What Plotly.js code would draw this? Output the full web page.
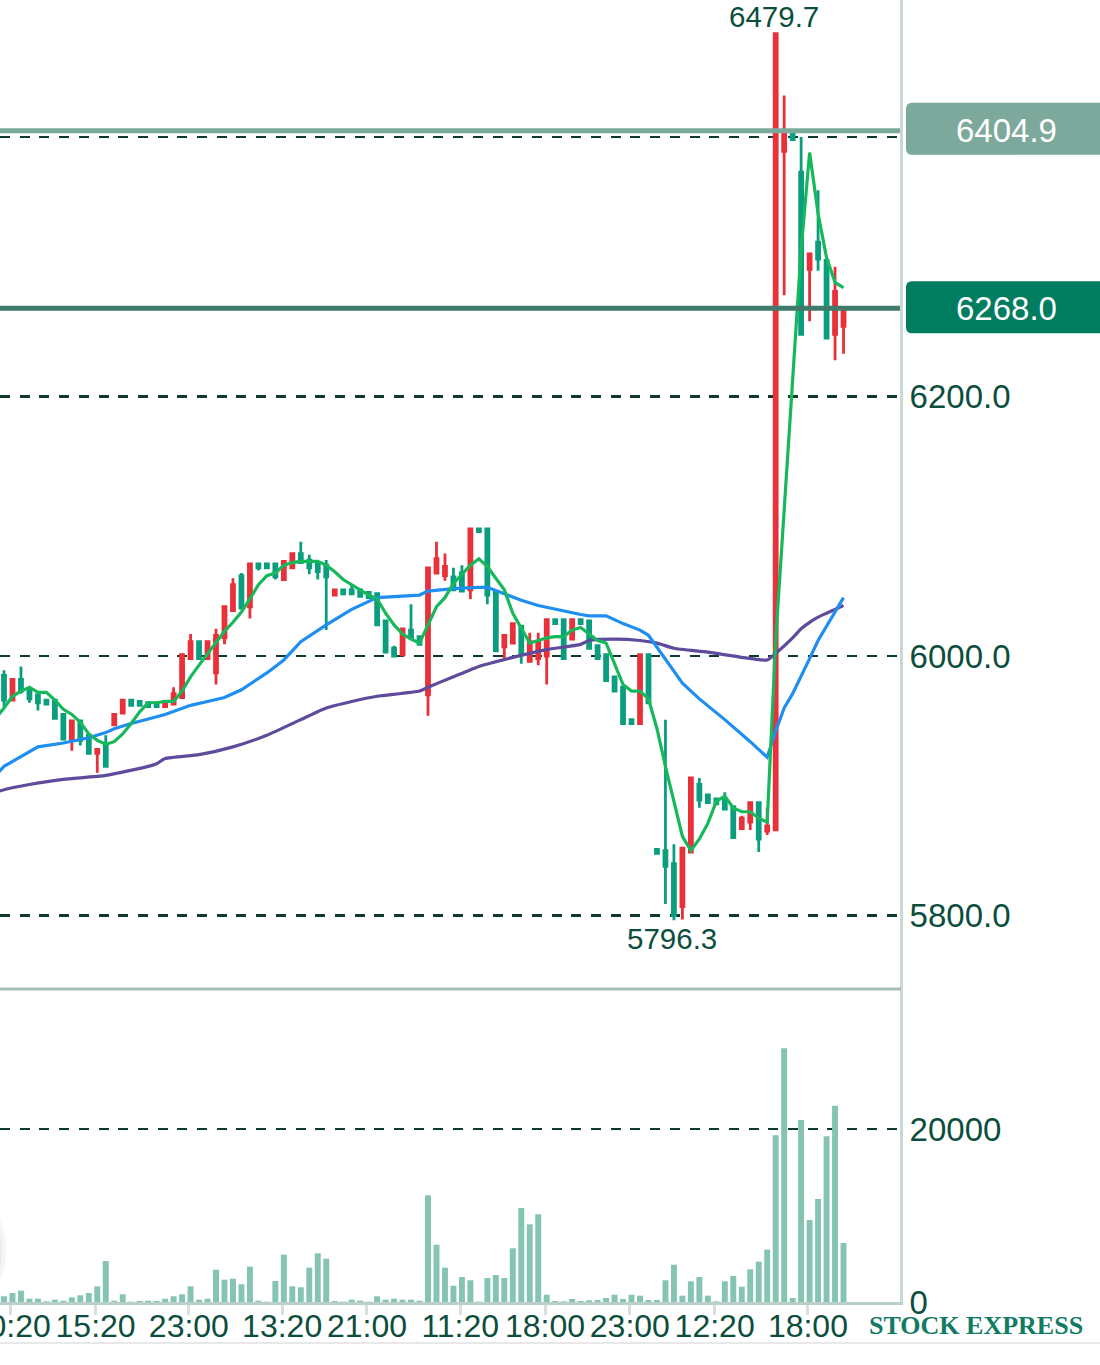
<!DOCTYPE html>
<html>
<head>
<meta charset="utf-8">
<script src="https://cdn.plot.ly/plotly-3.0.1.min.js"></script>
<style>html,body{margin:0;padding:0;background:#fff}</style>
</head>
<body>
<div id="chart"></div>
<script>
// candles, one entry per bar
const opens = [5985,5966,5982,5974,5970,5966,5966,5955,5935,5950,
  5939,5925,5932,5947,5956,5966,5965,5964,5964,5961,
  5963,5968,5998,6011,5998,5987,6014,6035,6062,6038,
  6071,6071,6071,6059,6068,6079,6074,6071,6070,6047,
  6051,6051,6051,6049,6048,6027,6006,6001,6020,6015,
  5970,6064,6062,6061,6064,6051,6098,6098,6049,6007,
  6010,6023,5996,5998,6000,6028,6028,6013,6028,6027,
  6008,6001,5984,5976,5951,5948,6001,5851,5850,5840,
  5807,5849,5901,5893,5890,5890,5884,5867,5872,5887,
  5865,5866,6389,6403,6373,6298,6319,6305,6248,6254];
const highs = [5989,5982,5992,5976,5971,5966,5967,5955,5950,5950,
  5939,5928,5939,5955,5966,5966,5965,5964,5964,5965,
  5976,6001,6017,6011,6011,6021,6038,6060,6064,6071,
  6071,6071,6071,6074,6079,6088,6078,6073,6074,6051,
  6051,6055,6051,6049,6048,6027,6008,6021,6040,6015,
  6068,6088,6079,6068,6070,6098,6098,6098,6049,6016,
  6025,6023,6018,6018,6028,6028,6028,6028,6028,6027,
  6008,6001,5984,5976,5951,6001,6001,5851,5951,5855,
  5852,5906,5906,5893,5890,5895,5884,5877,5887,5887,
  5883,6479.7,6432,6403,6400,6310,6359,6305,6300,6268];
const lows = [5961,5966,5971,5964,5958,5963,5952,5936,5927,5931,
  5925,5910,5915,5947,5956,5962,5962,5961,5961,5960,
  5963,5968,5998,5998,5998,5978,6009,6035,6037,6029,
  6066,6068,6059,6058,6068,6072,6063,6059,6020,6047,
  6048,6048,6046,6045,6024,6003,6000,6001,6014,6009,
  5954,6064,6058,6051,6050,6044,6096,6040,6004,5998,
  6010,5994,5996,5993,5978,6025,5998,6013,6025,6006,
  5998,5981,5973,5948,5948,5948,5964,5848,5809,5796.3,
  5797,5849,5883,5887,5886,5882,5860,5867,5866,5849,
  5862,5866,6278,6398,6248,6258,6297,6245,6228,6233];
const closes = [5966,5982,5973,5967,5964,5963,5952,5936,5950,5935,
  5925,5928,5915,5955,5966,5962,5962,5961,5961,5965,
  5971,6001,6011,5998,6011,6016,6038,6055,6037,6071,
  6068,6068,6061,6073,6079,6072,6068,6065,6061,6051,
  6048,6048,6046,6045,6024,6003,6000,6021,6014,6009,
  6068,6075,6069,6051,6050,6098,6096,6047,6004,6016,
  6025,6002,6011,6011,6028,6025,5998,6028,6025,6006,
  5998,5981,5973,5948,5948,6001,5964,5848,5838,5800,
  5852,5906,5889,5887,5886,5882,5860,5875,5887,5859,
  5869,6479.7,6404,6398,6248,6310,6306,6245,6281,6268];
const volumes = [660,1040,1310,380,380,80,270,150,540,770,
  1040,1810,4740,150,890,40,120,150,120,380,
  660,890,1810,270,380,3730,2580,2690,2050,4080,
  150,40,2430,5470,1810,1700,3970,5630,5010,120,
  40,270,150,40,660,270,380,270,270,150,
  12330,6620,3970,1880,2890,2510,40,2770,3120,2770,
  6210,10870,8980,10140,840,120,80,350,120,200,
  230,460,840,350,840,730,230,230,2510,4310,
  730,2390,2890,730,80,2390,3010,1770,3780,4660,
  6050,19270,29330,460,21040,9480,11910,19160,22690,6820];

// moving averages, read at the bars where they bend
const maFastIdx = [-1,0,1,2,3,4,5,6,7,8,9,10,11,12,13,14,15,16,17,18,19,20,21,22,23,24,25,26,27,28,29,30,31,32,33,34,
  35,36,37,38,39,40,41,42,43,44,45,46,47,48,49,50,51,52,53,54,55,56,57,58,59,
  60,61,62,63,64,65,66,67,68,69,70,71,72,73,74,75,76,77,78,79,80,81,82,83,84,85,86,87,88,89,90,
  91,92,93,94,95,96,97,98,99];
const maFast = [5952,5960,5969,5973,5976,5972,5972,5966,5959,5955,5949,5940,5935,5932,5934,5940,5948,5957,5964,5964,5965,5965,5973,5984,5993,6002,6010,6019,6026,6034,6044,6055,6062,6064,6070,6072,
  6073,6073,6073,6070,6065,6059,6055,6051,6047,6044,6033,6024,6017,6013,6010,6024,6038,6045,6056,6063,6070,6075,6069,6060,6051,
  6033,6021,6010,6012,6014,6015,6015,6020,6022,6017,6012,6010,5994,5978,5973,5973,5967,5944,5915,5889,5861,5850,5859,5871,5888,5892,5883,5880,5880,5875,5872,
  6012,6116,6213,6313,6388,6341,6307,6288,6284];
const maMidIdx = [-1,0,4,7,10,12,13,15,19,22,24,26,28,31,33,35,38,41,44,46,49,50,53,56,57,59,61,63,65,68,69,71,73,75,76,78,80,82,85,88,90,91,92,93,94,95,96,97,98,99];
const maMid = [5908,5915,5930,5933,5937,5941,5944,5948,5955,5962,5965,5968,5974,5987,5997,6011,6024,6036,6045,6046,6047,6050,6052,6053,6053,6048,6043,6039,6036,6032,6031,6031,6025,6020,6016,5997,5979,5967,5951,5934,5922,5942,5960,5971,5984,5998,6012,6023,6035,6045];
const maSlowIdx = [-1,0,3,7,12,17,18,19,23,27,31,35,38,41,44,49,50,53,56,60,64,68,69,72,75,77,79,83,87,90,91,93,94,95,96,97,98,99];
const maSlow = [5895,5897,5901,5905,5908,5915,5917,5921,5924,5930,5939,5951,5960,5965,5969,5973,5976,5984,5992,5999,6005,6009,6012,6013,6012,6010,6006,6003,5999,5997,6002,6014,6021,6026,6030,6033,6036,6039];

const timeTicks = [1,11,22,33,43,54,64,74,84,95];
const timeLabels = ['10:20','15:20','23:00','13:20','21:00','11:20','18:00','23:00','12:20','18:00'];
const priceTicks = [5800,6000,6200,6400];
const priceLabels = ['5800.0','6000.0','6200.0',''];
const volumeTicks = [0,20000];
const prevClose = 6404.9;
const lastPrice = 6268.0;
const highLabel = 6479.7;
const lowLabel = 5796.3;

const W = 1100, H = 1365;
const ink = '#0c4e3d';
const gridDash = '10px,9.7px';
const idx = opens.map((_, i) => i);
const px = v => v / W;
const py = v => 1 - v / H;

const candles = {
  type: 'candlestick', x: idx, open: opens, high: highs, low: lows, close: closes,
  xaxis: 'x', yaxis: 'y', whiskerwidth: 0, hoverinfo: 'skip',
  increasing: { line: { color: '#e92f38', width: 2.8 }, fillcolor: '#ee4c50' },
  decreasing: { line: { color: '#0b9e7e', width: 2.8 }, fillcolor: '#16a586' }
};
const volBars = {
  type: 'bar', x: idx, y: volumes, xaxis: 'x', yaxis: 'y2', width: 0.7,
  marker: { color: '#85c3b2', line: { width: 0 } }, hoverinfo: 'skip'
};
function maLine(xs, ys, color, shape) {
  return { type: 'scatter', mode: 'lines', x: xs, y: ys, xaxis: 'x', yaxis: 'y', hoverinfo: 'skip',
    line: { color: color, width: 3.2, shape: shape, smoothing: 0.5 } };
}

function priceTag(price, color, lift) {
  const t = 26 + lift, b = -26 + lift;
  return {
    type: 'path', layer: 'above', xref: 'paper', yref: 'y', xsizemode: 'pixel', ysizemode: 'pixel',
    xanchor: px(906), yanchor: price, fillcolor: color, line: { width: 0 },
    path: `M 6,${b} L 194,${b} L 194,${t} L 6,${t} Q 0,${t} 0,${t - 6} L 0,${b + 6} Q 0,${b} 6,${b} Z`
  };
}
function priceLine(price, color) {
  return { type: 'line', layer: 'above', xref: 'paper', yref: 'y', x0: 0, x1: px(900), y0: price, y1: price,
    line: { color: color, width: 5 } };
}
function tagText(price) {
  return { xref: 'paper', yref: 'y', x: px(1006), y: price, xanchor: 'center', yanchor: 'middle',
    text: price.toFixed(1), showarrow: false,
    font: { family: 'Liberation Sans', size: 33, color: '#ffffff' } };
}

// soft shadow of the floating button on the left edge
const shadow = [34, 30, 26, 22, 18, 14].map(r => ({
  type: 'circle', layer: 'above', xref: 'paper', yref: 'paper',
  x0: px(-30 - r), x1: px(-30 + r + 2), y0: py(1250 + r + 20), y1: py(1250 - r - 20),
  fillcolor: 'rgba(120,120,120,0.07)', line: { width: 0 }
}));

const layout = {
  width: W, height: H, autosize: false,
  margin: { l: 0, r: 0, t: 0, b: 0 },
  paper_bgcolor: '#ffffff', plot_bgcolor: '#ffffff',
  showlegend: false, hovermode: false, boxgap: 0.5,
  xaxis: {
    type: 'linear', domain: [0, px(900)], range: [-0.472, 105.66], anchor: 'y2',
    rangeslider: { visible: false }, showgrid: false, zeroline: false,
    showline: true, linecolor: '#b9cfc7', linewidth: 3,
    tickmode: 'array', tickvals: timeTicks.map(t => t - 0.2), ticktext: timeLabels,
    ticks: 'outside', ticklen: 10, tickwidth: 3, tickcolor: '#d6e1dd',
    ticklabeloverflow: 'allow', tickangle: 0, ticklabelstandoff: -16,
    tickfont: { family: 'Liberation Sans', size: 32, color: ink }
  },
  yaxis: {
    domain: [py(989), 1], range: [5743.4, 6505.6], side: 'right', anchor: 'x', zeroline: false,
    showline: true, linecolor: '#c8d8d2', linewidth: 3,
    tickmode: 'array', tickvals: priceTicks, ticktext: priceLabels, ticks: '',
    showgrid: true, gridcolor: '#0f3a2e', gridwidth: 2.8, griddash: gridDash,
    ticklabelstandoff: 0,
    tickfont: { family: 'Liberation Sans', size: 33, color: ink }
  },
  yaxis2: {
    domain: [py(1302), py(989)], range: [0, 36180], side: 'right', anchor: 'x', zeroline: false,
    showline: true, linecolor: '#c8d8d2', linewidth: 3,
    tickmode: 'array', tickvals: volumeTicks, ticktext: volumeTicks.map(String), ticks: '',
    showgrid: true, gridcolor: '#0f3a2e', gridwidth: 2.8, griddash: gridDash,
    ticklabelstandoff: 0,
    tickfont: { family: 'Liberation Sans', size: 33, color: ink }
  },
  shapes: [
    priceLine(prevClose, '#7da89c'),
    priceLine(lastPrice, '#3f7a6a'),
    priceTag(prevClose, '#7da89c', 2),
    priceTag(lastPrice, '#007c5f', 1),
    { type: 'line', layer: 'above', xref: 'paper', yref: 'paper', x0: 0, x1: px(901), y0: py(989), y1: py(989),
      line: { color: '#a5bfb5', width: 3 } },
    { type: 'line', layer: 'above', xref: 'paper', yref: 'paper', x0: 0, x1: 1, y0: py(1343), y1: py(1343),
      line: { color: '#e0e0e0', width: 1.5 } }
  ].concat(shadow),
  annotations: [
    tagText(prevClose),
    tagText(lastPrice),
    { xref: 'x', yref: 'y', x: 91, y: highLabel, text: highLabel.toFixed(1), showarrow: false, yanchor: 'bottom', yshift: -1, xshift: -2,
      font: { family: 'Liberation Sans', size: 29.5, color: ink } },
    { xref: 'x', yref: 'y', x: 79, y: lowLabel, text: lowLabel.toFixed(1), showarrow: false, yanchor: 'top', yshift: 0, xshift: -2,
      font: { family: 'Liberation Sans', size: 29.5, color: ink } },
    { xref: 'paper', yref: 'paper', x: px(976), y: py(1325), xanchor: 'center', yanchor: 'middle',
      text: '<b>STOCK EXPRESS</b>', showarrow: false,
      font: { family: 'Liberation Serif', size: 26, color: '#117c63' } }
  ]
};

Plotly.newPlot('chart', [
  volBars,
  candles,
  maLine(maSlowIdx, maSlow, '#5f4b9b', 'spline'),
  maLine(maMidIdx, maMid, '#1e8ff0', 'linear'),
  maLine(maFastIdx, maFast, '#17b85c', 'linear')
], layout, { displayModeBar: false, staticPlot: true });
</script>
</body>
</html>
